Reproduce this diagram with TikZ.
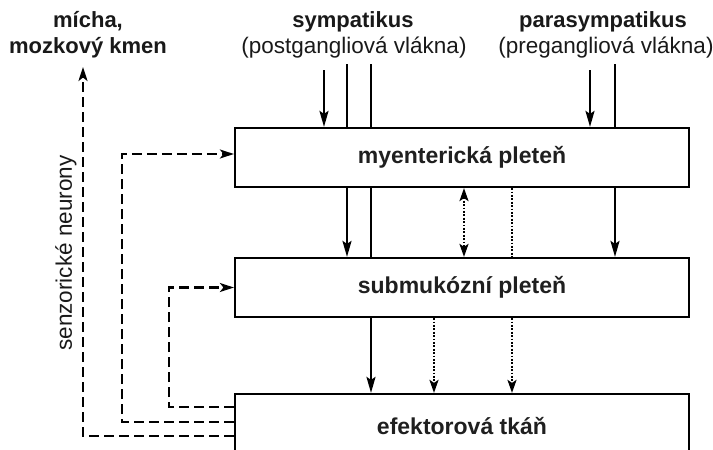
\documentclass[tikz,border=0pt]{standalone}
\usepackage{fontspec}
\setmainfont{Liberation Sans}
\usetikzlibrary{arrows.meta}
\begin{document}
\begin{tikzpicture}[x=1pt,y=-1pt,
  txt/.style={font=\fontsize{22.5}{26}\selectfont, inner sep=0pt, anchor=base, text=black!90},
  btxt/.style={txt, font=\bfseries\fontsize{22}{26}\selectfont},
  box/.style={draw, line width=2.2pt, fill=white, minimum width=454pt, minimum height=59pt, inner sep=0pt,
    font=\bfseries\fontsize{23}{26}\selectfont, text=black!88},
  ln/.style={line width=2.2pt},
  arr/.style={ln, -{Stealth[length=16pt,width=9pt,inset=3pt]}},
  dsh/.style={line width=2.2pt, dash pattern=on 10pt off 5pt, -{Stealth[length=14pt,width=9pt,inset=3.5pt]}},
  dot/.style={line width=2.2pt, dash pattern=on 1.8pt off 1.6pt},
  dotarr/.style={dot, -{Stealth[length=13pt,width=9pt,inset=3pt]}},
  dotdbl/.style={dot, {Stealth[length=13pt,width=9pt,inset=3pt]}-{Stealth[length=13pt,width=9pt,inset=3pt]}}
]
\useasboundingbox (0,0) rectangle (713,450);

% boxes
\node[box] (b1) at (462,157.5) {myenterická pleteň};
\node[box] (b2) at (462,287.5) {submukózní pleteň};
\node[box, minimum height=64pt] (b3) at (462,426) {efektorová tkáň};

% labels
\node[btxt] (m1) at (88,27) {mícha,};
\node[btxt] (m2) at (88,53) {mozkový kmen};
\node[btxt] (sy1) at (353,27) {sympatikus};
\node[txt] (sy2) at (354,53) {(postgangliová vlákna)};
\node[btxt] (pa1) at (603,27) {parasympatikus};
\node[txt] (pa2) at (606,53) {(pregangliová vlákna)};
\node[txt, rotate=90, anchor=center] (sn) at (66,253) {senzorické neurony};

% x positions
\coordinate (s1) at (324,70);
\coordinate (s2) at (347,64);
\coordinate (s3) at (371,64);
\coordinate (p1) at (590,70);
\coordinate (p2) at (615,64);
\coordinate (x434) at (434,0);
\coordinate (x464) at (464,0);
\coordinate (x512) at (512,0);

% top inputs
\draw[arr] (s1) -- (s1 |- b1.north);
\draw[ln] (s2) -- (s2 |- b1.north);
\draw[ln] (s3) -- (s3 |- b1.north);
\draw[arr] (p1) -- (p1 |- b1.north);
\draw[ln] (p2) -- (p2 |- b1.north);

% between b1 and b2
\draw[arr] (b1.south -| s2) -- (b2.north -| s2);
\draw[ln] (b1.south -| s3) -- (b2.north -| s3);
\draw[dotdbl] (b1.south -| x464) -- (b2.north -| x464);
\draw[dot] (b1.south -| x512) -- (b2.north -| x512);
\draw[arr] (b1.south -| p2) -- (b2.north -| p2);

% between b2 and b3
\draw[arr] (b2.south -| s3) -- (b3.north -| s3);
\draw[dotarr] (b2.south -| x434) -- (b3.north -| x434);
\draw[dotarr] (b2.south -| x512) -- (b3.north -| x512);

% sensory feedback
\coordinate (up) at (83,67);
\draw[dsh] ([yshift=-10pt]b3.west) -| (up);
\draw[dsh] ([yshift=4pt]b3.west) -- ++(-112,0) |- ([yshift=3.5pt]b1.west);
\draw[dsh] ([yshift=19pt]b3.west) -- ++(-65,0) |- (b2.west);
\end{tikzpicture}
\end{document}
